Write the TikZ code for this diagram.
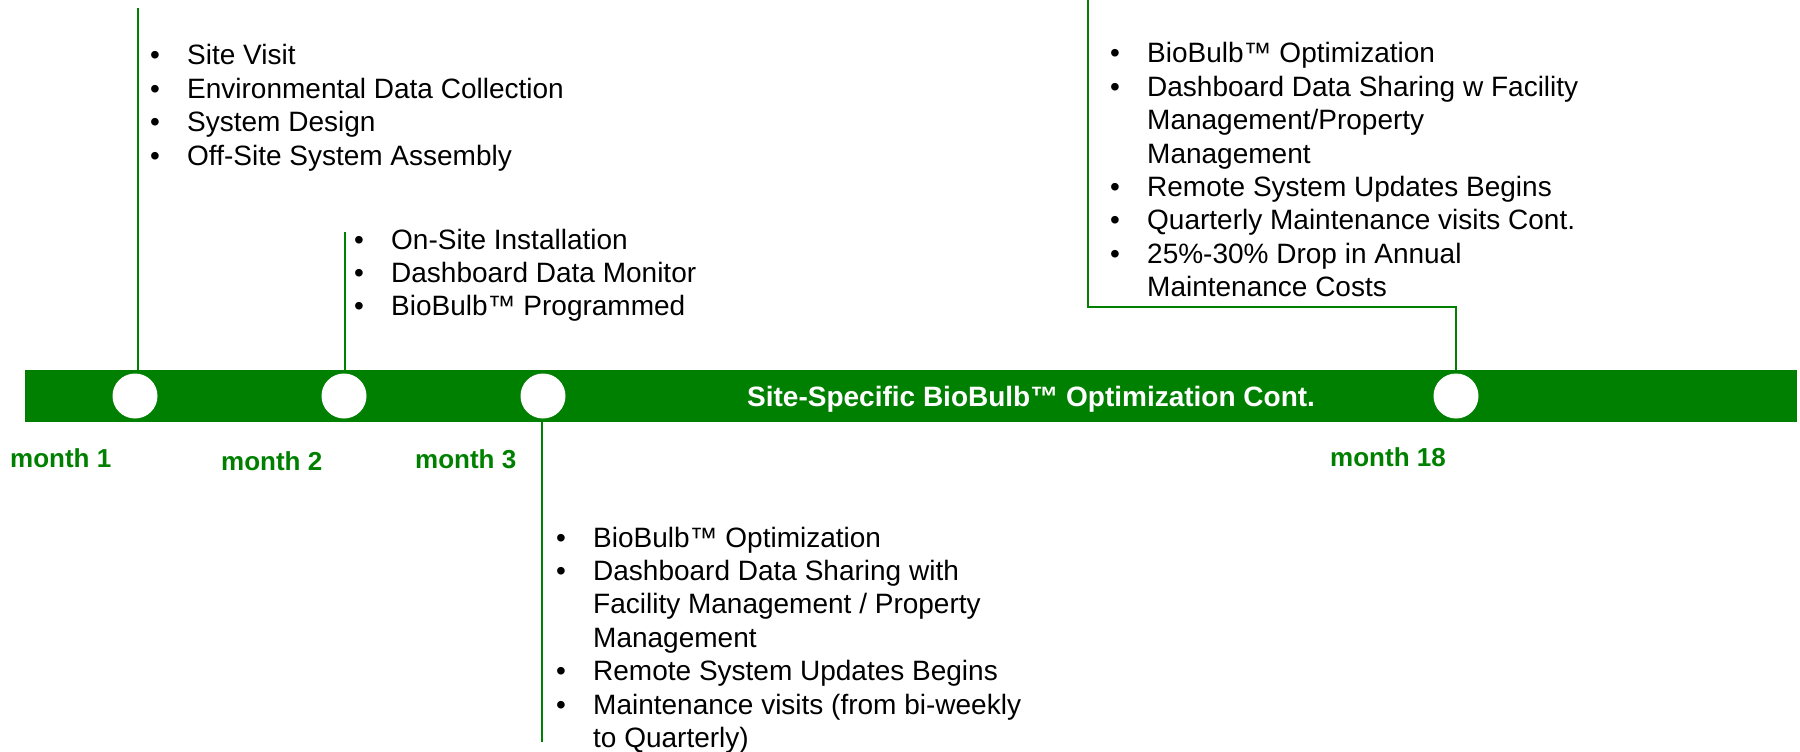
\documentclass[tikz,border=0pt]{standalone}
\usepackage{fontspec}
\setmainfont{Liberation Sans}
\definecolor{tlgreen}{RGB}{0,128,0}
\newcommand\bul{\makebox[37pt][l]{•}}
\newcommand\cont{\hspace*{37pt}}
\newcommand\mylines[1]{\vtop{\baselineskip=33.4pt\lineskiplimit=-100pt #1}}
\begin{document}
\begin{tikzpicture}[x=1pt,y=-1pt,
  conn/.style={draw=tlgreen, line width=1.6pt},
  list/.style={anchor=base west, inner sep=0pt, font=\fontsize{28}{33.4}\selectfont, text=black},
  monthlabel/.style={anchor=base west, inner sep=0pt, font=\fontsize{26}{30}\selectfont\bfseries, text=tlgreen},
  dot/.style={circle, fill=white, minimum size=45pt, inner sep=0pt}]
\useasboundingbox (0,0) rectangle (1800,752);

% timeline bar
\node[fill=tlgreen, minimum width=1772pt, minimum height=52pt, inner sep=0pt, anchor=north west] (bar) at (25,370) {};
\node[anchor=base west, inner sep=0pt, font=\fontsize{28}{33}\selectfont\bfseries, text=white] (bartext) at (747,406) {Site-Specific BioBulb™ Optimization Cont.};

% milestone dots
\node[dot] (c1) at (135,396) {};
\node[dot] (c2) at (344,396) {};
\node[dot] (c3) at (543,396) {};
\node[dot] (c4) at (1456,396) {};

% connectors
\coordinate (t1) at (138,8);
\coordinate (t2) at (345,232);
\coordinate (t3) at (542,742);
\coordinate (t4a) at (1456,307);
\coordinate (t4b) at (1088,307);
\coordinate (t4c) at (1088,0);
\draw[conn] (t1) -- (t1 |- bar.north);
\draw[conn] (t2) -- (t2 |- bar.north);
\draw[conn] (t3 |- bar.south) -- (t3);
\draw[conn] (t4a |- bar.north) -- (t4a) -- (t4b) -- (t4c);

% month labels
\node[monthlabel] (m1) at (10,467) {month 1};
\node[monthlabel] (m2) at (221,470) {month 2};
\node[monthlabel] (m3) at (415,468) {month 3};
\node[monthlabel] (m18) at (1330,466) {month 18};

% lists
\node[list] (g1) at (150,65) {\mylines{%
  \hbox{\bul Site Visit}
  \hbox{\bul Environmental Data Collection}
  \hbox{\bul System Design}
  \hbox{\bul Off-Site System Assembly}}};

\node[list] (g2) at (354,249) {\mylines{%
  \hbox{\bul On-Site Installation}
  \hbox{\bul Dashboard Data Monitor}
  \hbox{\bul BioBulb™ Programmed}}};

\node[list] (g3) at (556,547) {\mylines{%
  \hbox{\bul BioBulb™ Optimization}
  \hbox{\bul Dashboard Data Sharing with}
  \hbox{\cont Facility Management / Property}
  \hbox{\cont Management}
  \hbox{\bul Remote System Updates Begins}
  \hbox{\bul Maintenance visits (from bi-weekly}
  \hbox{\cont to Quarterly)}}};

\node[list] (g4) at (1110,63) {\mylines{%
  \hbox{\bul BioBulb™ Optimization}
  \hbox{\bul Dashboard Data Sharing w Facility}
  \hbox{\cont Management/Property}
  \hbox{\cont Management}
  \hbox{\bul Remote System Updates Begins}
  \hbox{\bul Quarterly Maintenance visits Cont.}
  \hbox{\bul 25\%-30\% Drop in Annual}
  \hbox{\cont Maintenance Costs}}};
\end{tikzpicture}
\end{document}
